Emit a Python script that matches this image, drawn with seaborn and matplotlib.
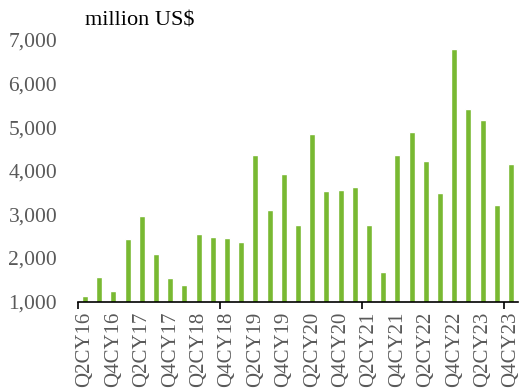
import matplotlib
matplotlib.use("Agg")
import matplotlib.pyplot as plt
import pandas as pd
import seaborn as sns
from matplotlib.ticker import FuncFormatter

# ---- data ----
quarters = [
    "Q2CY16", "Q3CY16", "Q4CY16",
    "Q1CY17", "Q2CY17", "Q3CY17", "Q4CY17",
    "Q1CY18", "Q2CY18", "Q3CY18", "Q4CY18",
    "Q1CY19", "Q2CY19", "Q3CY19", "Q4CY19",
    "Q1CY20", "Q2CY20", "Q3CY20", "Q4CY20",
    "Q1CY21", "Q2CY21", "Q3CY21", "Q4CY21",
    "Q1CY22", "Q2CY22", "Q3CY22", "Q4CY22",
    "Q1CY23", "Q2CY23", "Q3CY23", "Q4CY23",
]
values = [
    1130, 1573, 1252,
    2445, 2958, 2094, 1544,
    1390, 2553, 2477, 2454,
    2369, 4372, 3103, 3922,
    2766, 4846, 3532, 3562,
    3631, 2766, 1674, 4372,
    4884, 4227, 3486, 6796,
    5420, 5174, 3211, 4151,
]
y_ticks = [1000, 2000, 3000, 4000, 5000, 6000, 7000]
unit_label = "million US$"

BAR_COLOR = "#79B932"
TEXT_GRAY = "#595959"

df = pd.DataFrame({"Quarter": quarters, "Value": values})

sns.set_theme(style="white")
plt.rcParams["font.family"] = ["Liberation Serif", "DejaVu Serif"]

fig = plt.figure(figsize=(5.32, 3.92), dpi=100)
ax = fig.add_axes([0.1466, 0.2304, 0.8271, 0.668])

sns.barplot(data=df, x="Quarter", y="Value", color=BAR_COLOR,
            width=0.42, saturation=1, ax=ax)

ax.set_xlim(-0.5, len(quarters) - 0.5)
ax.set_ylim(1000, 7000)
ax.set_yticks(y_ticks)
ax.yaxis.set_major_formatter(FuncFormatter(lambda v, p: f"{int(v):,}"))
ax.tick_params(axis="y", length=0, labelsize=15.5, labelcolor=TEXT_GRAY, pad=15)

# labels on every other quarter, tick marks at every 10th category boundary
ax.set_xticks(range(0, len(quarters), 2))
ax.set_xticklabels(quarters[::2], rotation=90)
ax.tick_params(axis="x", which="major", length=0, labelsize=15,
               labelcolor=TEXT_GRAY, pad=7)
ax.set_xticks([-0.5, 9.5, 19.5, 29.5], minor=True)
ax.tick_params(axis="x", which="minor", length=5, width=1.2,
               color="black", direction="out", bottom=True)

for side in ["left", "top", "right"]:
    ax.spines[side].set_visible(False)
ax.spines["bottom"].set_color("black")
ax.spines["bottom"].set_linewidth(1.2)

ax.set_xlabel("")
ax.set_ylabel("")
ax.grid(False)

fig.text(85 / 532, 1 - 21 / 392, unit_label, fontsize=16, color="black",
         ha="left", va="center")

plt.savefig("out.png", dpi=100)
